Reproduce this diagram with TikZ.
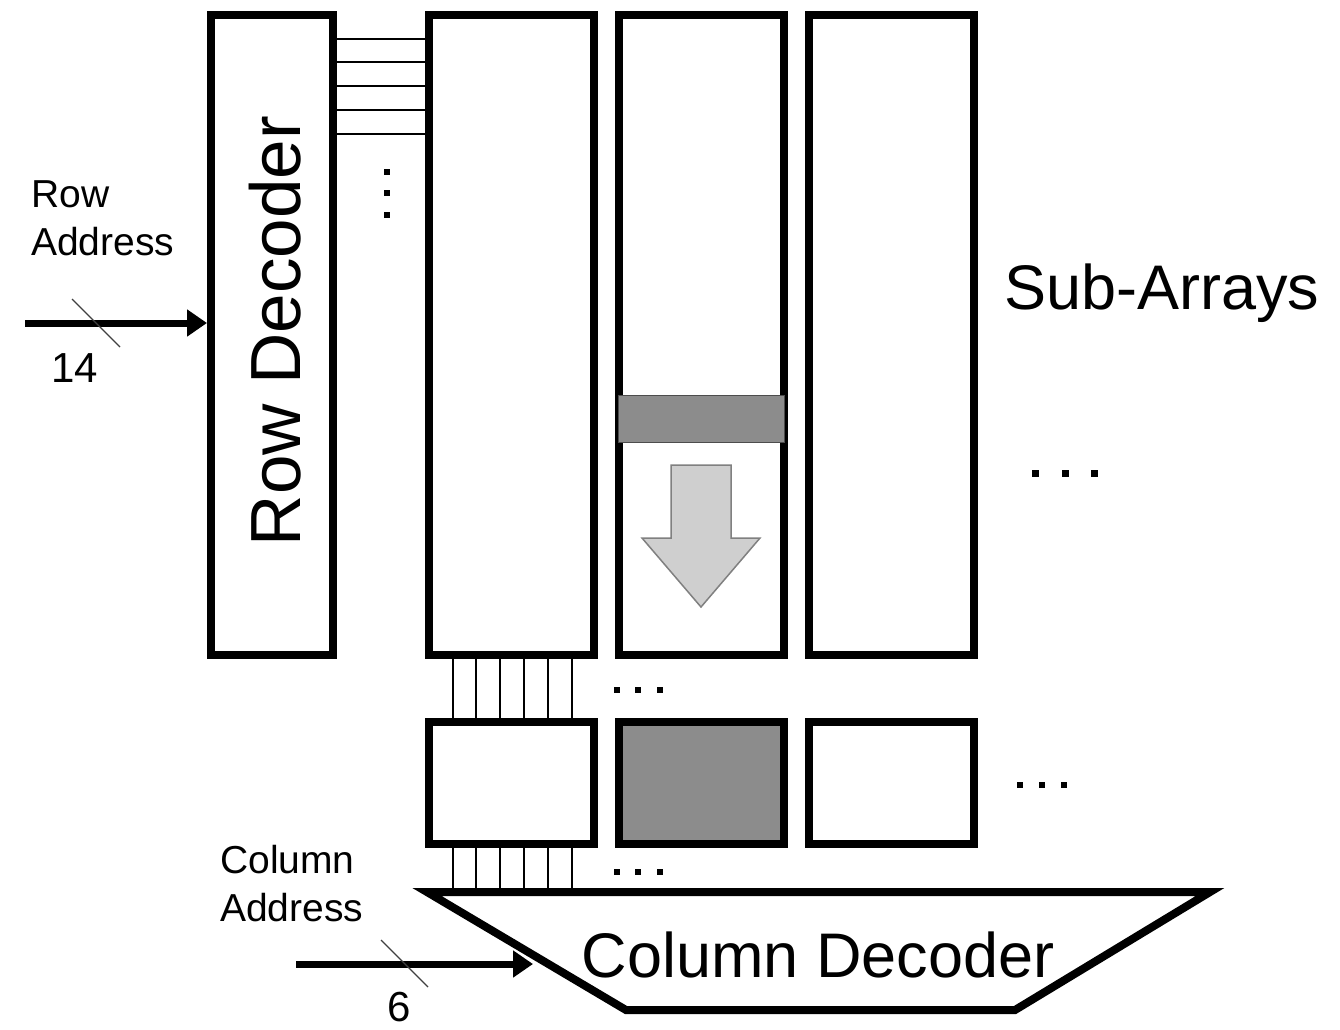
\documentclass[tikz,border=0pt]{standalone}
\usepackage{fontspec}
\setmainfont{Liberation Sans}
\usetikzlibrary{arrows.meta}
\begin{document}
\begin{tikzpicture}[x=1pt,y=-1pt,
  blk/.style={draw, line width=8pt, rectangle, inner sep=0pt, minimum width=165pt},
  wire/.style={line width=1.4pt},
  bus/.style={line width=7pt, -{Triangle[length=20pt,width=26pt]}},
  slash/.style={line width=1.2pt, draw=black!75},
  small/.style={inner sep=0pt, font=\fontsize{39}{44}\selectfont},
  num/.style={inner sep=0pt, font=\fontsize{42}{48}\selectfont},
  big/.style={inner sep=0pt, font=\fontsize{63}{70}\selectfont},
  dot/.style={fill=black, inner sep=0pt, minimum size=5.5pt, rectangle}]
\useasboundingbox[fill=white] (0,0) rectangle (1340,1029);

% row decoder
\node[blk, minimum width=122pt, minimum height=640pt] (rd) at (272,335) {};
\node[inner sep=0pt, rotate=90, font=\fontsize{71}{78}\selectfont] (rdt) at (275,331) {Row Decoder};

% sub-arrays
\node[blk, minimum height=640pt] (sa1) at (511,335) {};
\node[blk, minimum height=640pt] (sa2) at (701,335) {};
\node[blk, minimum height=640pt] (sa3) at (891,335) {};

% lower boxes
\node[blk, minimum height=122pt] (lb1) at (511,783) {};
\node[blk, minimum height=122pt, fill=black!45] (lb2) at (701,783) {};
\node[blk, minimum height=122pt] (lb3) at (891,783) {};

% word lines
\foreach \y in {39,62,86,110,134}
  \draw[wire] (rd.east |- 0,\y) -- (sa1.west |- 0,\y);

% selected row and arrow
\node[draw=black!70, line width=1pt, fill=black!45, minimum width=166pt, minimum height=47pt, inner sep=0pt] (row) at (701,418.5) {};
\draw[draw=black!50, line width=1.5pt, fill=black!19, line join=miter]
  (671,465) -- (731,465) -- (731,538) -- (760,538) -- (701,607) -- (642,538) -- (671,538) -- cycle;

% column decoder
\coordinate (cdtop) at (0,889);
\draw[line width=8pt, line join=miter] (427,892) -- (1210,892) -- (1015,1010) -- (626,1010) -- cycle;
\node[big] (cd) at (818,955) {Column Decoder};

% bit lines
\foreach \x in {453,476,500,524,548,572} {
  \draw[wire] (sa1.south -| \x,0) -- (lb1.north -| \x,0);
  \draw[wire] (lb1.south -| \x,0) -- (\x,0 |- cdtop);
}

% dots
\foreach \y [count=\i] in {172,193,215} \node[dot] (vd\i) at (387,\y) {};
\foreach \x [count=\i] in {617,638,660} {
  \node[dot] (md\i) at (\x,690) {};
  \node[dot] (ld\i) at (\x,872) {};
}
\foreach \x [count=\i] in {1035,1065,1094} \node[dot, minimum size=7pt] (rt\i) at (\x,473) {};
\foreach \x [count=\i] in {1020,1042,1064} \node[dot] (rl\i) at (\x,785) {};

% labels
\node[big, anchor=base west] (sub) at (1004,309) {Sub-Arrays};
\node[small, anchor=base west] (ra1) at (31,207) {Row};
\node[small, anchor=base west] (ra2) at (31,255) {Address};
\node[num, anchor=base west] (n14) at (51,382) {14};
\node[small, anchor=base west] (ca1) at (220,873) {Column};
\node[small, anchor=base west] (ca2) at (220,921) {Address};
\node[num, anchor=base] (n6) at (399,1021) {6};

% address buses
\coordinate (rain) at (25,323);
\draw[bus] (rain) -- (rd.west |- rain);
\draw[slash] (72,299) -- (120,347);
\coordinate (cain) at (296,964);
\coordinate (caend) at (533,964);
\draw[bus] (cain) -- (caend);
\draw[slash] (381,940) -- (428,987);
\end{tikzpicture}
\end{document}
